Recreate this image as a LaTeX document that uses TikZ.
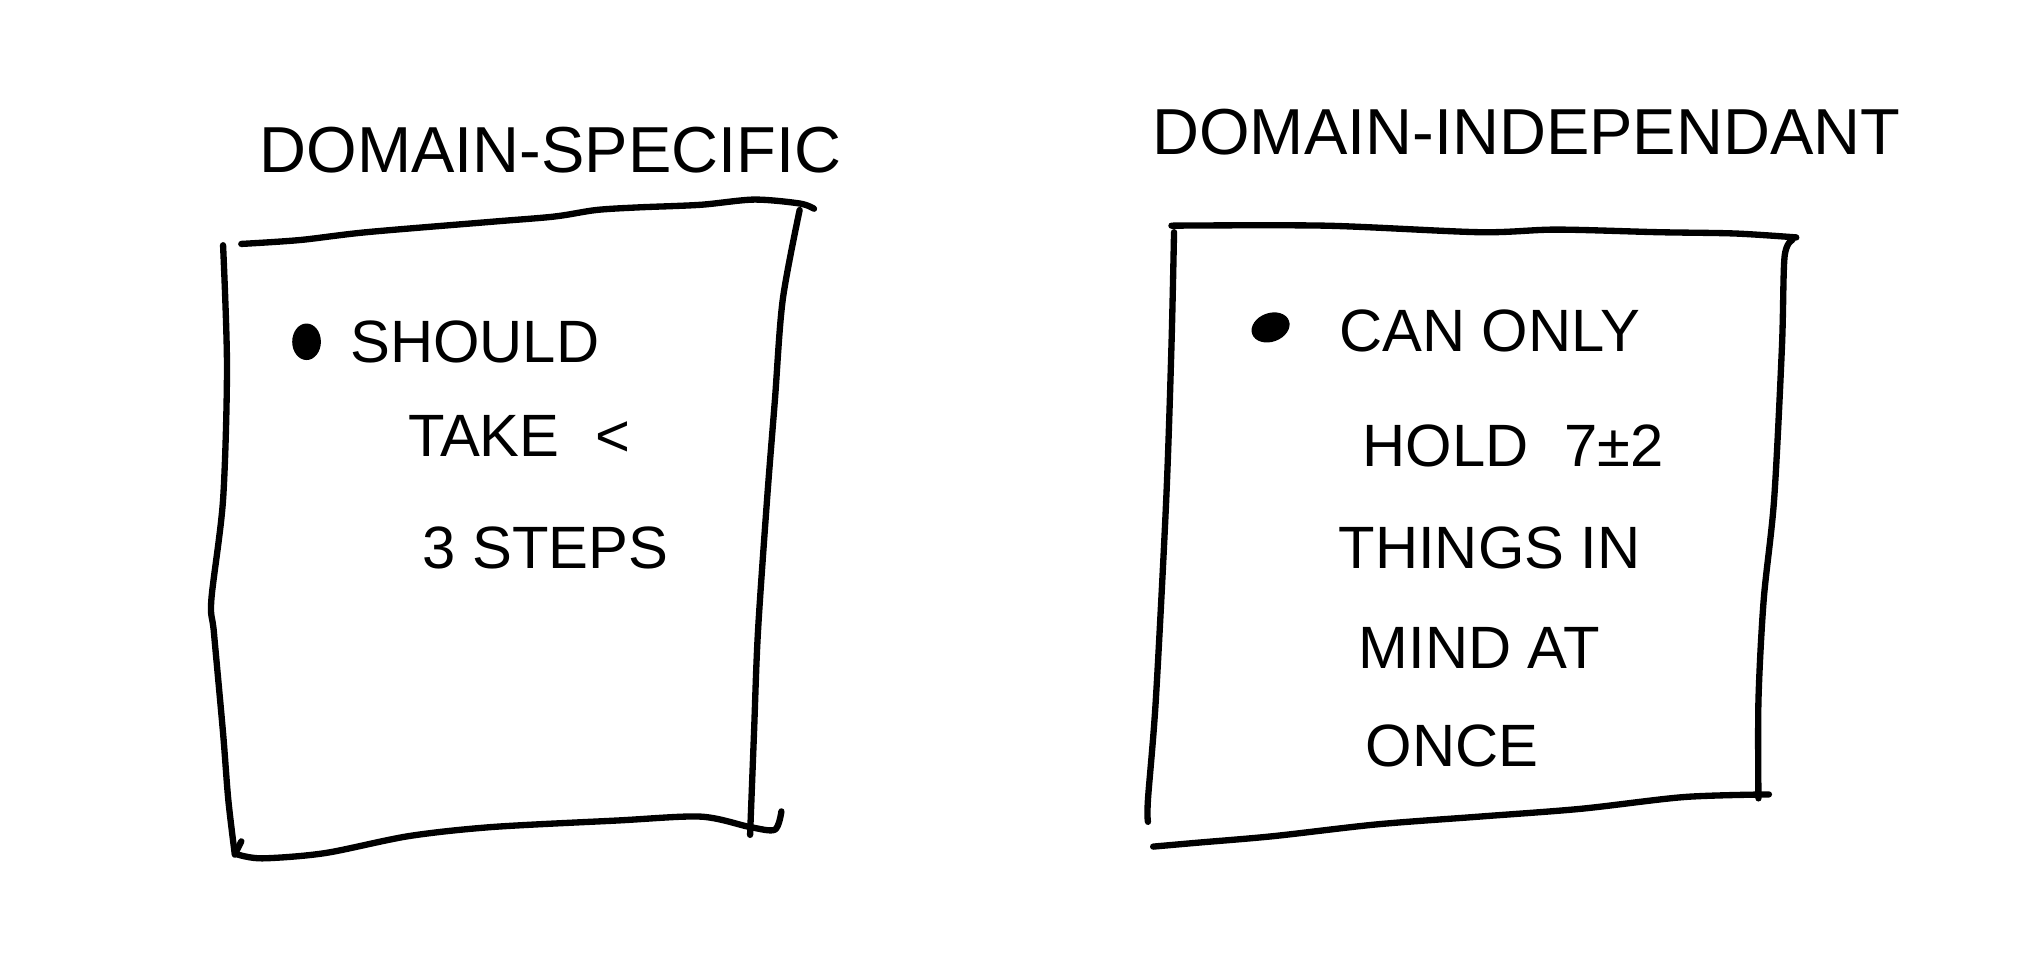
\documentclass[tikz,border=0pt]{standalone}
\usepackage{fontspec}
\setmainfont{Liberation Sans}

\begin{document}
\begin{tikzpicture}[x=0.013045cm,y=-0.013045cm,
    pen/.style={line width=1.8pt,line cap=round,line join=round},
    heading/.style={font=\fontsize{18.5}{22}\selectfont,inner sep=0pt},
    item/.style={font=\fontsize{17}{20}\selectfont,inner sep=0pt}]
    \useasboundingbox (0,0) rectangle (1560,746);
    % left sheet
    \draw[pen] plot[smooth] coordinates {(185,187) (230,184) (281,178) (377,170) (425,166)
      (457,161) (489,159) (537,157) (578,153) (613,156) (624,160)};
    \draw[pen] plot[smooth] coordinates {(171,188) (174,281) (171,383) (162,460) (164,485)
      (171,562) (175,613) (180,655)};
    \draw[pen] plot[smooth] coordinates {(613,161) (600,230) (594,307) (588,383) (581,485)
      (578,562) (575,640)};
    \draw[pen] plot[smooth] coordinates {(182,655) (201,658) (249,654) (313,641) (377,634)
      (473,629) (537,626) (575,634) (594,636) (599,622)};
    \draw[pen] (180,655) -- (185,645);
    % right sheet
    \draw[pen] plot[smooth] coordinates {(898,173) (1016,173) (1134,178) (1193,176)
      (1271,178) (1330,179) (1377,182)};
    \draw[pen] plot[smooth] coordinates {(900,178) (898,266) (894,383) (886,537)
      (880,613) (880,630)};
    \draw[pen] plot[smooth] coordinates {(1374,184) (1368,197) (1366,266) (1360,383)
      (1352,460) (1348,537) (1348,612)};
    \draw[pen] plot[smooth] coordinates {(884,649) (918,646) (976,641) (1055,632)
      (1134,626) (1212,620) (1291,611) (1356,609)};
    % headings
    \node[heading] (specific) at (422,115) {DOMAIN-SPECIFIC};
    \node[heading] (independant) at (1170,101) {DOMAIN-INDEPENDANT};
    % bullets
    \fill (235,262) ellipse [x radius=11,y radius=14];
    \fill[rotate around={20:(974,251)}] (974,251) ellipse [x radius=15,y radius=11];
    \foreach \txt/\x/\y [count=\i] in {SHOULD/364/262,TAKE\hspace{0.6em}</398/334,3 STEPS/418/420}{
      \node[item] (s\i) at (\x,\y) {\txt};
    }
    \foreach \txt/\x/\y [count=\i] in {CAN ONLY/1142/254,HOLD\hspace{0.6em}7±2/1160/342,
      THINGS IN/1142/420,MIND AT/1134/497,ONCE/1113/572}{
      \node[item] (d\i) at (\x,\y) {\txt};
    }
\end{tikzpicture}
\end{document}
